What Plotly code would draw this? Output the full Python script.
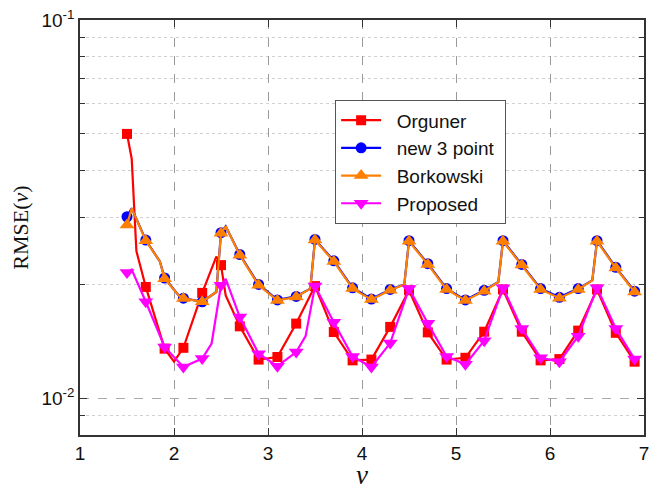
import plotly.graph_objects as go
import math

# ---- data ----
orguner_x = [1.5, 1.55, 1.6, 1.7, 1.9, 2.0, 2.1, 2.3, 2.45, 2.5, 2.55, 2.7, 2.9, 3.1, 3.3, 3.5,
             3.7, 3.9, 4.1, 4.3, 4.5, 4.7, 4.9, 5.1, 5.3, 5.5, 5.7, 5.9, 6.1, 6.3, 6.5, 6.7, 6.9]
orguner_y = [0.050, 0.043, 0.0245, 0.0197, 0.01353, 0.0125, 0.0136, 0.0190, 0.0237, 0.0225, 0.0187,
             0.0155, 0.01266, 0.01286, 0.01576, 0.0198, 0.01497, 0.0126, 0.01266, 0.01545, 0.0193,
             0.01494, 0.01266, 0.0128, 0.0150, 0.0194, 0.0150, 0.0126, 0.0127, 0.0151, 0.0194,
             0.0149, 0.0125]

borkowski_x = [1.5, 1.55, 1.7, 1.85, 1.9, 2.05, 2.1, 2.3, 2.45, 2.5, 2.55, 2.7, 2.9, 3.1, 3.3,
               3.45, 3.5, 3.7, 3.9, 4.1, 4.3, 4.45, 4.5, 4.7, 4.9, 5.1, 5.3, 5.45, 5.5, 5.7, 5.9,
               6.1, 6.3, 6.45, 6.5, 6.7, 6.9]
borkowski_y = [0.0287, 0.0318, 0.0261, 0.0230, 0.0207, 0.0187, 0.01837, 0.0180, 0.0191, 0.0273,
               0.0285, 0.0239, 0.0199, 0.01815, 0.01853, 0.0195, 0.0262, 0.0230, 0.0195, 0.01824,
               0.0193, 0.0200, 0.0260, 0.0226, 0.0194, 0.01815, 0.0192, 0.0203, 0.0260, 0.0225,
               0.0194, 0.0184, 0.0194, 0.0205, 0.0260, 0.0221, 0.0191]

new3_x = list(borkowski_x)
new3_y = [0.0302, 0.0318, 0.0262, 0.0230, 0.0208, 0.0187, 0.0184, 0.0180, 0.0191, 0.0274,
          0.0285, 0.0240, 0.0200, 0.0182, 0.0186, 0.0195, 0.0263, 0.0231, 0.0196, 0.0183,
          0.0194, 0.0200, 0.0261, 0.0227, 0.0195, 0.0182, 0.0193, 0.0203, 0.0261, 0.0226,
          0.0195, 0.0185, 0.0195, 0.0205, 0.0261, 0.0222, 0.0192]

proposed_x = [1.5, 1.55, 1.7, 1.9, 2.1, 2.3, 2.4, 2.5, 2.55, 2.7, 2.9, 3.1, 3.3, 3.4, 3.5, 3.7,
              3.9, 4.1, 4.3, 4.5, 4.7, 4.9, 5.1, 5.3, 5.5, 5.7, 5.9, 6.1, 6.3, 6.5, 6.7, 6.9]
proposed_y = [0.0215, 0.0219, 0.0180, 0.01367, 0.0121, 0.01274, 0.01396, 0.0199, 0.0207, 0.0164,
              0.01312, 0.01216, 0.01325, 0.0146, 0.0198, 0.0159, 0.0129, 0.0121, 0.0140, 0.0195,
              0.0158, 0.0129, 0.0123, 0.0142, 0.0196, 0.0153, 0.0128, 0.0125, 0.0146, 0.0196,
              0.0153, 0.0127]

series_names = ["Orguner", "new 3 point", "Borkowski", "Proposed"]
x_ticks = [1, 2, 3, 4, 5, 6, 7]
y_ticks = [0.01, 0.1]
y_tick_text = ["10<sup>-2</sup>", "10<sup>-1</sup>"]
y_minor = [0.009, 0.02, 0.03, 0.04, 0.05, 0.06, 0.07, 0.08, 0.09]

# ---- styles ----
styles = [
    dict(color="#FF0000", symbol="square", size=10),
    dict(color="#0000FF", symbol="circle", size=11),
    dict(color="#FF8000", symbol="triangle-up", size=13),
    dict(color="#FF00FF", symbol="triangle-down", size=13),
]
data = [(orguner_x, orguner_y), (new3_x, new3_y), (borkowski_x, borkowski_y), (proposed_x, proposed_y)]


def on_marker_grid(x):
    k = (x - 1.5) / 0.2
    return abs(k - round(k)) < 1e-6


fig = go.Figure()
for (xs, ys), st, name in zip(data, styles, series_names):
    mx = [x for x in xs if on_marker_grid(x)]
    my = [y for x, y in zip(xs, ys) if on_marker_grid(x)]
    fig.add_trace(go.Scatter(x=xs, y=ys, mode="lines", showlegend=False, hoverinfo="skip",
                             line=dict(color=st["color"], width=2.2)))
    fig.add_trace(go.Scatter(x=mx, y=my, mode="markers", showlegend=False,
                             marker=dict(color=st["color"], symbol=st["symbol"], size=st["size"],
                                         line=dict(width=0))))
for st, name in zip(styles, series_names):
    fig.add_trace(go.Scatter(x=[None], y=[None], mode="lines+markers",
                             name="\u00a0\u00a0" + name + "\u00a0",
                             line=dict(color=st["color"], width=2.2),
                             marker=dict(color=st["color"], symbol=st["symbol"], size=st["size"],
                                         line=dict(width=0))))

axis_common = dict(showline=True, linecolor="#333333", linewidth=1.5, mirror="allticks",
                   ticks="inside", ticklen=7, tickcolor="#333333", automargin=False,
                   ticklabeloverflow="allow",
                   tickfont=dict(family="Liberation Sans, Arial", size=19, color="#111111"),
                   zeroline=False)

fig.update_xaxes(range=[1, 7], tickvals=x_ticks, showgrid=True, gridcolor="#9a9a9a",
                 griddash="dash", gridwidth=1, **axis_common,
                 title=dict(text="<i>ν</i>", font=dict(family="Liberation Serif, Times New Roman",
                                                       size=27, color="#111111"), standoff=12))
fig.update_yaxes(type="log", range=[math.log10(0.008), math.log10(0.10002)], tickvals=y_ticks,
                 ticktext=y_tick_text,
                 showgrid=True, gridcolor="#aaaaaa", griddash="dash", gridwidth=1,
                 minor=dict(tickvals=y_minor, ticks="inside", ticklen=5, tickcolor="#333333",
                            showgrid=True, gridcolor="#d0d0d0", griddash="dot", gridwidth=1),
                 **axis_common,
                 title=dict(text="RMSE(<i>ν</i>)", font=dict(family="Liberation Serif, Times New Roman",
                                                            size=22, color="#111111"), standoff=10))

# The page places the plot 8px from the top-left corner, so the size and margins
# are chosen to put the plot area at the reference position.
fig.update_layout(
    width=646, height=482,
    margin=dict(l=72, r=10, t=12, b=55),
    plot_bgcolor="white", paper_bgcolor="white",
    legend=dict(x=0.452, y=0.807, xanchor="left", yanchor="top",
                bgcolor="white", bordercolor="#555555", borderwidth=1.2,
                font=dict(family="Liberation Sans, Arial", size=19, color="#111111"),
                tracegroupgap=0, itemwidth=40),
    showlegend=True,
)

fig.write_html("out.html")
